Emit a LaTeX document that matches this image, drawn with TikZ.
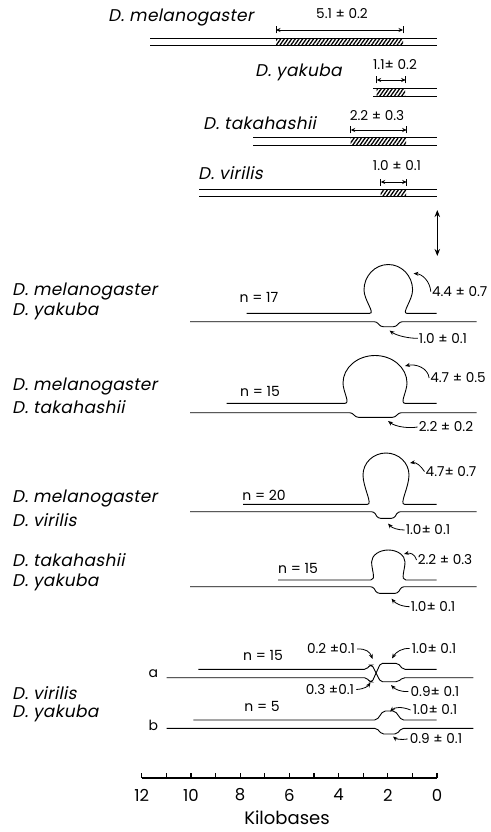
\documentclass[tikz,border=0pt]{standalone}
\usepackage{fontspec}
\setmainfont{Poppins}
\newfontfamily\spf[FakeSlant=0.2,LetterSpace=2]{Poppins}
\usetikzlibrary{arrows.meta,patterns.meta}
\tikzset{
  strand/.style={line width=0.9pt},
  sp/.style={font=\spf\fontsize{17}{19}\selectfont, inner sep=0pt, anchor=west},
  num/.style={font=\fontsize{13.6}{15}\selectfont, inner sep=0pt},
  nlab/.style={font=\fontsize{14}{15}\selectfont, inner sep=0pt},
  lead/.style={line width=0.8pt, -{Stealth[length=5pt,width=4pt]}},
  dimline/.style={line width=0.8pt, {Stealth[length=4.5pt,width=4pt]}-{Stealth[length=4.5pt,width=4pt]}},
  hatch/.style={pattern={Lines[angle=55,distance=3pt,line width=1.3pt]}},
}
% omega loop: cx, ymid, rx, ry, base, neck half width, xleft, xright
\newcommand\omegaloop[8]{%
  \draw[strand] (#7,#5) -- ({#1-#6-4},#5) .. controls ({#1-#6+1.5},#5) and ({#1-#3},{#2+0.42*(#5-#2)}) .. ({#1-#3},#2)
    arc[start angle=180, end angle=360, x radius=#3, y radius=#4]
    .. controls ({#1+#3},{#2+0.42*(#5-#2)}) and ({#1+#6-1.5},#5) .. ({#1+#6+4},#5) -- (#8,#5);}
% line with dip: xl, xr, y, x1, x2, depth
\newcommand\dipline[6]{%
  \draw[strand, rounded corners=2.5pt] (#1,#3) -- (#4,#3) -- ({#4+4},{#3+#6}) -- ({#5-4},{#3+#6}) -- (#5,#3) -- (#2,#3);}
% double line: x1, x2, ytop, ybot
\newcommand\dline[4]{\draw[strand] (#1,#3) -- (#2,#3) (#1,#4) -- (#2,#4);}
% dimension: name, x1, x2, y
\newcommand\dimarrow[4]{%
  \coordinate (#1a) at (#2,#4); \coordinate (#1b) at (#3,#4);
  \draw[dimline] (#1a) -- (#1b);
  \draw[strand] ([yshift=-3.5pt]#1a) -- ([yshift=3.5pt]#1a) ([yshift=-3.5pt]#1b) -- ([yshift=3.5pt]#1b);}
\begin{document}
\begin{tikzpicture}[x=1pt,y=-1pt]
\fill[white] (0,0) rectangle (490,832);
\useasboundingbox (0,0) rectangle (490,832);

% ---------- top: restriction maps ----------
\node[sp] (tmel) at (108,18) {D.\hspace{0.3em}melanogaster};
\node[num] (dmel) at (342,14) {5.1 ± 0.2};
\dimarrow{km}{276}{403}{30}
\fill[hatch] (276,38.3) rectangle (403,45.7);
\dline{150}{437}{38.3}{45.7}

\node[sp] (tyak) at (255,72) {D.\hspace{0.3em}yakuba};
\node[num] (dyak) at (395,65) {1.1± 0.2};
\dimarrow{ky}{376.7}{405.7}{80}
\fill[hatch] (376.7,88.3) rectangle (405,96.7);
\dline{373}{437}{88.3}{96.7}

\node[sp] (ttak) at (203,123) {D.\hspace{0.3em}takahashii};
\node[num] (dtak) at (377,116) {2.2 ± 0.3};
\dimarrow{kt}{350.7}{406.7}{130}
\fill[hatch] (350.7,137.3) rectangle (406,145.7);
\dline{253}{437}{137.3}{145.7}

\node[sp] (tvir) at (198,173) {D.\hspace{0.3em}virilis};
\node[num] (dvir) at (397,166) {1.0 ± 0.1};
\dimarrow{kv}{380.7}{406.7}{182}
\fill[hatch] (380.7,189) rectangle (406,196.7);
\dline{199}{437}{189}{196.7}

% double-headed arrow
\coordinate (da1) at (437.3,210);
\coordinate (da2) at (437.3,256);
\draw[line width=1.6pt, {Stealth[length=7pt,width=5.5pt]}-{Stealth[length=7pt,width=5.5pt]}] (da1) -- (da2);

% ---------- pair 1 ----------
\node[sp] (p1a) at (12,291.7) {D. melanogaster};
\node[sp] (p1b) at (12,311.7) {D. yakuba};
\node[nlab] (p1n) at (259,297) {n = 17};
\omegaloop{388.3}{290}{24.3}{25.5}{313.3}{14.5}{246.7}{436.7}
\dipline{190}{476.7}{321.7}{376.7}{400}{5}
\node[num] (p1u) at (459.7,291.7) {4.4 ± 0.7};
\node[num] (p1l) at (443,338.3) {1.0 ± 0.1};
\coordinate (p1ut) at (413.5,273.5);
\coordinate (p1lt) at (389.5,330.5);
\draw[lead] ([xshift=-1pt]p1u.west) .. controls (430,281) and (422,274) .. (p1ut);
\draw[lead] ([xshift=-1pt]p1l.west) .. controls (410,338.5) and (397,336) .. (p1lt);

% ---------- pair 2 ----------
\node[sp] (p2a) at (12,386.7) {D. melanogaster};
\node[sp] (p2b) at (12,406.7) {D. takahashii};
\node[nlab] (p2n) at (260,391) {n = 15};
\omegaloop{375}{383}{32}{27.5}{403.3}{26}{226.7}{436.7}
\dipline{190}{476.7}{412.7}{352}{399}{4.6}
\node[num] (p2u) at (458,378) {4.7 ± 0.5};
\node[num] (p2l) at (446,427) {2.2 ± 0.2};
\coordinate (p2ut) at (405,366);
\coordinate (p2lt) at (388,421);
\draw[lead] ([xshift=-1pt]p2u.west) .. controls (428,368) and (416,363.5) .. (p2ut);
\draw[lead] ([xshift=-1pt]p2l.west) .. controls (409,428.5) and (396,427) .. (p2lt);

% ---------- pair 3 ----------
\node[sp] (p3a) at (12,498.3) {D. melanogaster};
\node[sp] (p3b) at (12,520) {D. virilis};
\node[nlab] (p3n) at (264,495) {n = 20};
\omegaloop{386}{475}{23}{22}{504.3}{14.5}{243}{436.7}
\dipline{190}{476.7}{511.7}{374}{398}{6.6}
\node[num] (p3u) at (451,471.5) {4.7± 0.7};
\node[num] (p3l) at (428,530) {1.0± 0.1};
\coordinate (p3ut) at (410,463);
\coordinate (p3lt) at (388,523.5);
\draw[lead] ([xshift=-1pt]p3u.west) .. controls (421,466) and (416,462) .. (p3ut);
\draw[lead] ([xshift=-1pt]p3l.west) .. controls (398,530) and (392,528) .. (p3lt);

% ---------- pair 4 ----------
\node[sp] (p4a) at (12,560) {D. takahashii};
\node[sp] (p4b) at (12,582) {D. yakuba};
\node[nlab] (p4n) at (298,568) {n = 15};
\omegaloop{388.3}{562}{16.7}{12}{580}{13.5}{278}{436.7}
\dipline{190}{476.7}{586.7}{373}{401.7}{6.6}
\node[num] (p4u) at (445,560) {2.2 ± 0.3};
\node[num] (p4l) at (433,606.7) {1.0± 0.1};
\coordinate (p4ut) at (404,554);
\coordinate (p4lt) at (391.5,598.5);
\draw[lead] ([xshift=-1pt]p4u.west) .. controls (415,554) and (410,552.5) .. (p4ut);
\draw[lead] ([xshift=-1pt]p4l.west) .. controls (401,606.5) and (395,603) .. (p4lt);

% ---------- virilis / yakuba heteroduplexes ----------
\node[sp] (p5a) at (12,693.3) {D. virilis};
\node[sp] (p5b) at (12,713.3) {D. yakuba};
\node[nlab] (la) at (153.3,674) {a};
\node[nlab] (lb) at (153.3,725.5) {b};
\node[nlab] (p5n) at (263,655) {n = 15};
\node[nlab] (p6n) at (262,706) {n = 5};

% a
\draw[strand, rounded corners=2pt] (198.3,669.3) -- (366.5,669.3) -- (370,665) -- (372,665) -- (380.5,681.7) -- (398,681.7) -- (403,677.7) -- (473.3,677.7);
\draw[strand, rounded corners=2pt] (166.7,677.7) -- (366.5,677.7) -- (370,682) -- (372,682) -- (380.5,663.3) -- (398,663.3) -- (403,669.3) -- (436.7,669.3);
\node[num] (a1) at (331,649) {0.2 ±0.1};
\node[num] (a2) at (434,648.5) {1.0± 0.1};
\node[num] (a3) at (330,689.5) {0.3 ±0.1};
\node[num] (a4) at (435,691.5) {0.9± 0.1};
\coordinate (a1t) at (372.5,659);
\coordinate (a2t) at (392,658.5);
\coordinate (a3t) at (370.5,682.5);
\coordinate (a4t) at (391,685);
\draw[lead] ([xshift=2pt]a1.east) .. controls (366,648.5) and (370,652) .. (a1t);
\draw[lead] ([xshift=-2pt]a2.west) .. controls (402,648) and (396,652) .. (a2t);
\draw[lead] ([xshift=2pt]a3.east) .. controls (365,689) and (368,686) .. (a3t);
\draw[lead] ([xshift=-2pt]a4.west) .. controls (400,692) and (395,689) .. (a4t);

% b
\draw[strand, rounded corners=2pt] (193.3,720) -- (376.7,720) -- (383.3,711) -- (395,711) -- (401.7,720) -- (436.7,720);
\draw[strand, rounded corners=2pt] (166.7,728.3) -- (376.7,728.3) -- (381.7,734) -- (396.7,734) -- (401.7,728.3) -- (473.3,728.3);
\node[num] (b1) at (435,710) {1.0± 0.1};
\node[num] (b2) at (436,739) {0.9 ± 0.1};
\coordinate (b1t) at (390,711.5);
\coordinate (b2t) at (393,736.5);
\draw[lead] ([xshift=-2pt]b1.west) .. controls (402,706.5) and (395,707) .. (b1t);
\draw[lead] ([xshift=-2pt]b2.west) .. controls (401,740) and (396,739) .. (b2t);

% ---------- scale ----------
\coordinate (ax0) at (437,778);
\coordinate (ax12) at (141.7,778);
\draw[line width=1.8pt] (ax12) -- (ax0);
\foreach \k in {0,...,12} {
  \coordinate (tk\k) at ({437-24.61*\k},778);
  \draw[line width=1.2pt] (tk\k) -- ([yshift=5pt]tk\k);
}
\foreach \k in {0,2,...,12} {
  \node[font=\fontsize{16.5}{17}\selectfont, inner sep=0pt] (tl\k) at ({437-24.61*\k},795) {\k};
}
\node[font=\fontsize{18}{19}\selectfont, inner sep=0pt] (kb) at (287,818) {Kilobases};
\end{tikzpicture}
\end{document}
